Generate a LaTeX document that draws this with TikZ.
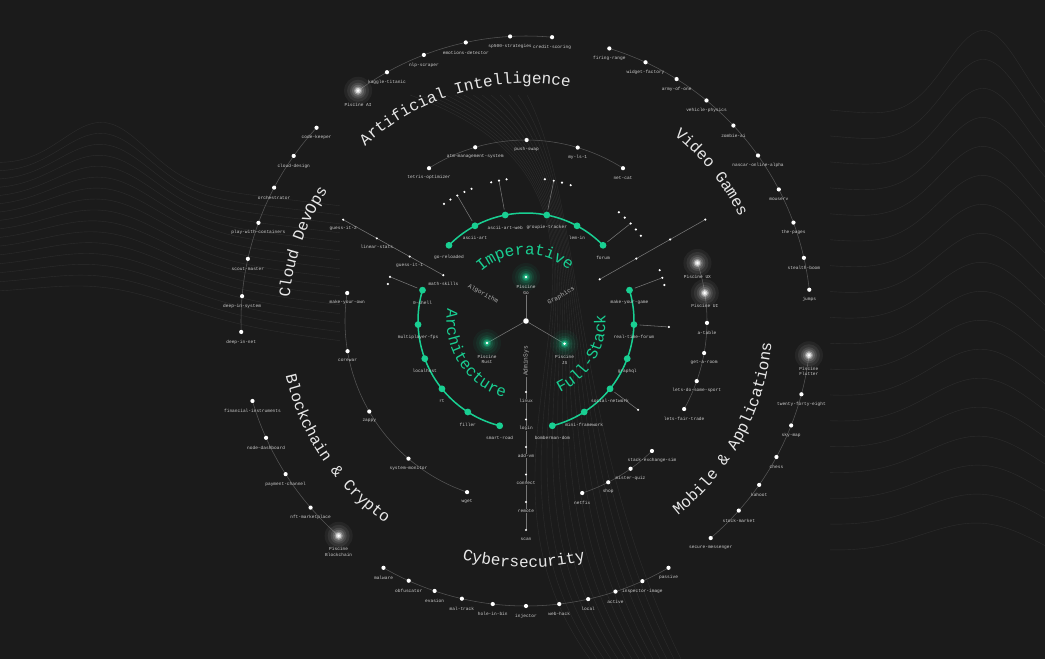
\documentclass[tikz,border=0pt]{standalone}
\usepackage{fontspec}
\setmonofont{Liberation Mono}
\usetikzlibrary{calc,decorations.text}
\definecolor{bg}{HTML}{1B1B1B}
\definecolor{acc}{HTML}{19CF92}
\definecolor{rl}{HTML}{555555}
\definecolor{lbl}{HTML}{CFCFCF}
\definecolor{ttl}{HTML}{E8E8E8}
\definecolor{wave}{HTML}{2D2D2D}
\newcommand\lblfont{\ttfamily\fontsize{4.5}{5.3}\selectfont}
\newcommand\spkfont{\ttfamily\fontsize{6.2}{7}\selectfont}
\newcommand\ttlfont{\ttfamily\fontsize{16}{16}\selectfont}
\pgfdeclarelayer{bgl}\pgfdeclarelayer{lines}\pgfsetlayers{bgl,lines,main}
% ring node: name, angle, radius, style, label, label offset
\newcommand\RN[6]{\node[#4] (#1) at ($(O)+(#2:#3)$) {};\node[lab] (#1-t) at ($(#1)+(0,-#6)$) {#5};}
% spoke node with a label that masks the spoke line
\newcommand\AN[4]{\node[sdot] (#1) at ($(O)+(#2:#3)$) {};\node[lab,fill=bg] (#1-t) at ($(#1)+(0,-9)$) {#4};}
% glow node: name, angle, radius, colour, label, label offset
\newcommand\GLOW[6]{\coordinate (#1) at ($(O)+(#2:#3)$);
  \foreach \rr/\oo in {14/0.05,11/0.07,8/0.1,6/0.15,4.2/0.3,2.8/0.6}{\fill[#4,opacity=\oo] (#1) circle (\rr);}
  \fill[white] (#1) circle (1.4);
  \node[lab] (#1-t) at ($(#1)+(0,-#6)$) {#5};}
\newcommand\SD[3]{\node[sdot] (#1) at ($(O)+(#2:#3)$) {};}
\begin{document}
\begin{tikzpicture}[x=1pt,y=1pt,
  wdot/.style={circle,fill=white,inner sep=0pt,minimum size=4.2pt},
  sdot/.style={circle,fill=white,inner sep=0pt,minimum size=2.4pt},
  gdot/.style={circle,fill=acc,inner sep=0pt,minimum size=6.8pt},
  cdot/.style={circle,fill=white,inner sep=0pt,minimum size=5.6pt},
  lab/.style={font=\lblfont,text=lbl,inner sep=0.3pt,align=center},
  slab/.style={font=\spkfont,text=lbl!85!black,inner sep=0.5pt},
  ring/.style={draw=rl,line width=0.55pt},
  garc/.style={draw=acc,line width=1.5pt},
  spoke/.style={draw=rl!80!white,line width=0.55pt},
  wv/.style={draw=wave,line width=0.4pt},
  ttl/.style={decorate,decoration={text along path,text align=center,
     text={|\ttlfont\color{ttl}|#1}}},
  gttl/.style={decorate,decoration={text along path,text align=center,
     text={|\ttlfont\color{acc}|#1}}},
]
\useasboundingbox (0,0) rectangle (1045,-659);
\coordinate (O) at (526,-321);

% ---------- background and waves ----------
\begin{pgfonlayer}{bgl}
\fill[bg] (0,0) rectangle (1045,-659);
\foreach \i in {0,...,15}{
  \draw[wv] plot[smooth,domain=0:340,samples=40]
    (\x,{-(165+9*\i-(55-2*\i)*exp(-((\x-105)/(60+3*\i))^2)+0.12*\x)});
}
\foreach \i in {0,...,17}{
  \draw[wv] plot[smooth,domain=830:1045,samples=40]
    (\x,{-(110+26*\i-(95-3*\i)*exp(-((\x-985)/(55+2*\i))^2)+0.1*(\x-830))});
}
\foreach \i in {0,...,13}{
  \draw[wv] (410+9*\i,-95) .. controls (700-9*\i,-200) and (430+11*\i,-440) .. (590+7*\i,-659);
}
\end{pgfonlayer}

% ---------- outer ring (r=285) ----------
\GLOW{pai}{126.1}{285}{white}{Piscine AI}{14}
\RN{kaggle}{119.2}{285}{wdot}{kaggle-titanic}{10}
\RN{nlp}{111.0}{285}{wdot}{nlp-scraper}{10}
\RN{emo}{102.2}{285}{wdot}{emotions-detector}{10}
\RN{sp}{93.2}{285}{wdot}{sp500-strategies}{10}
\RN{credit}{84.75}{285}{wdot}{credit-scoring}{10}

\RN{fire}{73.0}{285}{wdot}{firing-range}{10}
\RN{widget}{65.2}{285}{wdot}{widget-factory}{10}
\RN{army}{58.1}{285}{wdot}{army-of-one}{10}
\RN{vehicle}{50.7}{285}{wdot}{vehicle-physics}{10}
\RN{zombie}{43.3}{285}{wdot}{zombie-ai}{10}
\RN{nascar}{35.5}{285}{wdot}{nascar-online-alpha}{10}
\RN{mouse}{27.5}{285}{wdot}{mouserv}{10}
\RN{pages}{20.2}{285}{wdot}{the-pages}{10}
\RN{stealth}{12.8}{285}{wdot}{stealth-boom}{10}
\RN{jumps}{6.3}{285}{wdot}{jumps}{10}

\RN{codek}{137.3}{285}{wdot}{code-keeper}{10}
\RN{cloudd}{144.6}{285}{wdot}{cloud-design}{10}
\RN{orch}{152.1}{285}{wdot}{orchestrator}{10}
\RN{pwc}{159.85}{285}{wdot}{play-with-containers}{10}
\RN{scout}{167.4}{285}{wdot}{scout-master}{10}
\RN{dis}{175.0}{285}{wdot}{deep-in-system}{10}
\RN{din}{182.2}{285}{wdot}{deep-in-net}{10}

\RN{fin}{196.3}{285}{wdot}{financial-instruments}{10}
\RN{nodedash}{204.2}{285}{wdot}{node-dashboard}{10}
\RN{paych}{212.5}{285}{wdot}{payment-channel}{10}
\RN{nft}{220.9}{285}{wdot}{nft-marketplace}{10}
\GLOW{pbc}{228.9}{285}{white}{Piscine\\Blockchain}{16}

\RN{malw}{240}{285}{wdot}{malware}{10}
\RN{obf}{245.7}{285}{wdot}{obfuscator}{10}
\RN{evas}{251.3}{285}{wdot}{evasion}{10}
\RN{maltr}{257}{285}{wdot}{mal-track}{10}
\RN{hole}{263.3}{285}{wdot}{hole-in-bin}{10}
\RN{inj}{270}{285}{wdot}{injector}{10}
\RN{webh}{276.7}{285}{wdot}{web-hack}{10}
\RN{local}{282.6}{285}{wdot}{local}{10}
\RN{active}{288.3}{285}{wdot}{active}{10}
\RN{insp}{294.1}{285}{wdot}{inspector-image}{10}
\RN{passive}{300}{285}{wdot}{passive}{10}

\RN{secm}{-49.6}{285}{wdot}{secure-messenger}{10}
\RN{stock}{-41.7}{285}{wdot}{stock-market}{10}
\RN{kahoot}{-35.1}{285}{wdot}{kahoot}{10}
\RN{chess}{-28.5}{285}{wdot}{chess}{10}
\RN{sky}{-21.5}{285}{wdot}{sky-map}{10}
\RN{t48}{-14.9}{285}{wdot}{twenty-forty-eight}{10}
\GLOW{pfl}{-6.9}{285}{white}{Piscine\\Flutter}{16}

% ---------- middle ring (r=181) ----------
\RN{tetris}{122.4}{181}{wdot}{tetris-optimizer}{9.5}
\RN{atm}{106.3}{181}{wdot}{atm-management-system}{9.5}
\RN{pushswap}{89.8}{181}{wdot}{push-swap}{9.5}
\RN{myls}{73.4}{181}{wdot}{my-ls-1}{9.5}
\RN{netcat}{57.6}{181}{wdot}{net-cat}{9.5}

\RN{myo}{171.1}{181}{wdot}{make-your-own}{9.5}
\RN{corewar}{189.6}{181}{wdot}{corewar}{9.5}
\RN{zappy}{210}{181}{wdot}{zappy}{9.5}
\RN{sysmon}{229.5}{181}{wdot}{system-monitor}{9.5}
\RN{wget}{251}{181}{wdot}{wget}{9.5}

\GLOW{pux}{18.7}{181}{white}{Piscine UX}{14}
\GLOW{pui}{8.9}{181}{white}{Piscine UI}{13}
\RN{atable}{-0.6}{181}{wdot}{a-table}{9.5}
\RN{getroom}{-10.2}{181}{wdot}{get-a-room}{9.5}
\RN{letsdo}{-19.4}{181}{wdot}{lets-do-some-sport}{9.5}
\RN{letsfair}{-29.1}{181}{wdot}{lets-fair-trade}{9.5}

\RN{stackex}{-45.9}{181}{wdot}{stack-exchange-sim}{9.5}
\RN{misterq}{-54.7}{181}{wdot}{mister-quiz}{9.5}
\RN{shop}{-63}{181}{wdot}{shop}{9.5}
\RN{netfix}{-71.9}{181}{wdot}{netfix}{9.5}

% ---------- inner green ring (r=108) ----------
\RN{gorel}{135.5}{108}{gdot}{go-reloaded}{12.5}
\RN{ascii}{118.2}{108}{gdot}{ascii-art}{12.5}
\RN{asciiweb}{101.1}{108}{gdot}{ascii-art-web}{12.5}
\RN{groupie}{78.9}{108}{gdot}{groupie-tracker}{12.5}
\RN{lemin}{61.8}{108}{gdot}{lem-in}{12.5}
\RN{forum}{44.5}{108}{gdot}{forum}{12.5}

\RN{zshell}{163.4}{108}{gdot}{0-shell}{12.5}
\RN{mfps}{181.9}{108}{gdot}{multiplayer-fps}{12.5}
\RN{localhost}{200.4}{108}{gdot}{localhost}{12.5}
\RN{rt}{218.9}{108}{gdot}{rt}{12.5}
\RN{filler}{237.4}{108}{gdot}{filler}{12.5}
\RN{smartroad}{255.9}{108}{gdot}{smart-road}{12.5}

\RN{mygame}{16.6}{108}{gdot}{make-your-game}{12.5}
\RN{rtforum}{-1.9}{108}{gdot}{real-time-forum}{12.5}
\RN{graphql}{-20.4}{108}{gdot}{graphql}{12.5}
\RN{socnet}{-38.9}{108}{gdot}{social-network}{12.5}
\RN{minifw}{-57.4}{108}{gdot}{mini-framework}{12.5}
\RN{bomber}{-75.9}{108}{gdot}{bomberman-dom}{12.5}

% sub-project dots (r=143)
\SD{aa1}{125}{143}\SD{aa2}{121.9}{143}\SD{aa3}{118.7}{143}\SD{aa4}{115.5}{143}\SD{aa5}{112.4}{143}
\SD{aw1}{104.1}{143}\SD{aw2}{100.9}{143}\SD{aw3}{97.8}{143}
\SD{gt1}{82.4}{143}\SD{gt2}{78.8}{143}\SD{gt3}{75.4}{143}\SD{gt4}{71.8}{143}
\SD{fo1}{49.5}{143}\SD{fo2}{46.3}{143}\SD{fo3}{43}{143}\SD{fo4}{39.8}{143}\SD{fo5}{36.6}{143}
\SD{zs1}{162}{143}\SD{zs2}{165}{143}
\SD{mg1}{20.8}{143}\SD{mg2}{17.6}{143}\SD{mg3}{14.6}{143}
\SD{rf1}{-2.4}{143}
\SD{sn1}{-38.4}{143}

% ---------- spokes ----------
\RN{mathsk}{151}{94.5}{sdot}{math-skills}{9}
\RN{gi1}{151}{133}{sdot}{guess-it-1}{9}
\RN{linst}{151}{170.5}{sdot}{linear-stats}{9}
\RN{gi2}{151}{209}{sdot}{guess-it-2}{9}
\node[slab,rotate=-29] (algo) at (483,-294) {Algorithm};

\SD{gr1}{29.5}{84.7}\SD{gr2}{29.5}{126.8}\SD{gr3}{29.5}{165.6}\SD{gr4}{29.5}{206}
\node[slab,rotate=29.5] (graph) at (561,-296) {Graphics};

\node[slab,rotate=90] (admin) at (526,-361) {AdminSys};
\AN{linux}{270}{71}{linux}
\AN{login}{270}{98.5}{login}
\AN{addvm}{270}{126}{add-vm}
\AN{connect}{270}{153.5}{connect}
\AN{remote}{270}{181}{remote}
\AN{scan}{270}{209}{scan}

% ---------- centre piscines ----------
\GLOW{pgo}{90}{44}{acc}{Piscine\\Go}{13}
\GLOW{prust}{209.5}{44.8}{acc}{Piscine\\Rust}{16}
\GLOW{pjs}{-30.5}{44.8}{acc}{Piscine\\JS}{16}
\node[cdot] (ctr) at (O) {};

% ---------- connectors ----------
\begin{pgfonlayer}{lines}
\draw[ring] (pai) arc[start angle=126.1,end angle=84.75,radius=285];
\draw[ring] (fire.center) arc[start angle=73,end angle=6.3,radius=285];
\draw[ring] (codek.center) arc[start angle=137.3,end angle=182.2,radius=285];
\draw[ring] (fin.center) arc[start angle=196.3,end angle=228.9,radius=285];
\draw[ring] (malw.center) arc[start angle=240,end angle=300,radius=285];
\draw[ring] (secm.center) arc[start angle=-49.6,end angle=-6.9,radius=285];
\draw[ring] (tetris.center) arc[start angle=122.4,end angle=57.6,radius=181];
\draw[ring] (myo.center) arc[start angle=171.1,end angle=251,radius=181];
\draw[ring] (pux) arc[start angle=18.7,end angle=-29.1,radius=181];
\draw[ring] (stackex.center) arc[start angle=-45.9,end angle=-71.9,radius=181];
\draw[garc] (gorel.center) arc[start angle=135.5,end angle=44.5,radius=108];
\draw[garc] (zshell.center) arc[start angle=163.4,end angle=255.9,radius=108];
\draw[garc] (mygame.center) arc[start angle=16.6,end angle=-75.9,radius=108];
\draw[spoke] (ctr) -- (pgo-t.south);
\draw[spoke] (ctr) -- (prust);
\draw[spoke] (ctr) -- (pjs);
\draw[spoke] (admin.west) -- (scan.center);
\draw[spoke] (mathsk.center) -- (gi2.center);
\draw[spoke] (gr1.center) -- (gr4.center);
\draw[spoke,shorten <=2pt] (ascii) -- (aa3);
\draw[spoke,shorten <=2pt] (asciiweb) -- (aw2);
\draw[spoke,shorten <=2pt] (groupie) -- (gt2);
\draw[spoke,shorten <=2pt] (forum) -- (fo3);
\draw[spoke,shorten <=2pt] (zshell) -- (zs1);
\draw[spoke,shorten <=2pt] (mygame) -- (mg2);
\draw[spoke,shorten <=2pt] (rtforum) -- (rf1);
\draw[spoke,shorten <=2pt] (socnet) -- (sn1);
\end{pgfonlayer}

% ---------- curved titles ----------
\path[ttl=Artificial Intelligence] ($(O)+(141:237.5)$) arc[start angle=141,end angle=71,radius=237.5];
\path[ttl=Video Games] ($(O)+(61:237.5)$) arc[start angle=61,end angle=16.4,radius=237.5];
\path[ttl=Cloud DevOps] ($(O)+(182.5:237.5)$) arc[start angle=182.5,end angle=138.5,radius=237.5];
\path[ttl=Blockchain {\&} Crypto] ($(O)+(184:246.5)$) arc[start angle=184,end angle=244,radius=246.5];
\path[ttl=Cybersecurity] ($(O)+(244.5:246.5)$) arc[start angle=244.5,end angle=294.5,radius=246.5];
\path[ttl=Mobile {\&} Applications] ($(O)+(-60.5:246.5)$) arc[start angle=-60.5,end angle=3.5,radius=246.5];
\path[gttl=Imperative] ($(O)+(146:66.5)$) arc[start angle=146,end angle=36,radius=66.5];
\path[gttl=Architecture] ($(O)+(157.6:79.5)$) arc[start angle=157.6,end angle=267.6,radius=79.5];
\path[gttl=Full-Stack] ($(O)+(-80:79.5)$) arc[start angle=-80,end angle=20,radius=79.5];
\end{tikzpicture}
\end{document}
